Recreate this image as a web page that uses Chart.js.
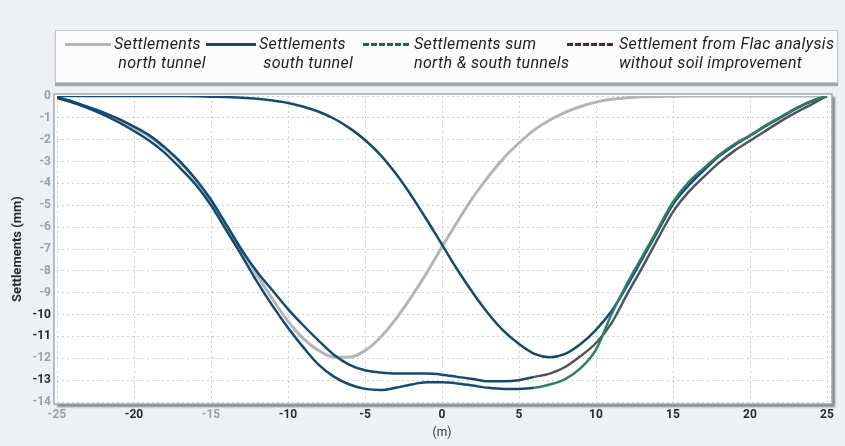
<!DOCTYPE html>
<html>
<head>
<meta charset="utf-8">
<script src="https://cdn.jsdelivr.net/npm/chart.js@4.4.1/dist/chart.umd.min.js"></script>
<style>
  html, body { margin: 0; padding: 0; background: #eef1f4; }
  #wrap { position: relative; width: 845px; height: 446px; overflow: hidden; }
  #chart { position: absolute; left: 0; top: 0; }
  .legend {
    position: absolute; left: 55px; top: 30px; width: 781px; height: 51px;
    background: #fbfbfb; border: 1px solid #c3c7cb; box-shadow: 0 3px 1px #a3a7ab;
  }
  .item {
    position: absolute; top: 3px; color: #1e1e1e; line-height: 22px; white-space: nowrap;
    font: italic 16px Roboto, sans-serif; letter-spacing: 0.35px;
  }
  .swatch { position: absolute; top: 12px; width: 46px; height: 0; border-top: 3px solid; }
</style>
</head>
<body>
<div id="wrap">
  <canvas id="chart" width="845" height="446"></canvas>
  <div class="legend">
    <div class="swatch" style="left:9px;border-color:#b3b6b8"></div>
    <div class="item" style="left:58px">Settlements<br>&nbsp;north tunnel</div>
    <div class="swatch" style="left:150px;width:50px;border-color:#114a73"></div>
    <div class="item" style="left:203px">Settlements<br>&nbsp;south tunnel</div>
    <div class="swatch" style="left:307px;border-top-style:dashed;border-color:#1c6a55"></div>
    <div class="item" style="left:358px">Settlements sum<br>north &amp; south tunnels</div>
    <div class="swatch" style="left:511px;border-top-style:dashed;border-color:#5b2330"></div>
    <div class="item" style="left:563px">Settlement from Flac analysis<br>without soil improvement</div>
  </div>
</div>
<script>
// 가로 위치 (m)
const X_M = [-25, -24, -23, -22, -21, -20, -19, -18, -17, -16, -15, -14, -13, -12, -11, -10,
  -9, -8, -7, -6, -5, -4, -3, -2, -1, 0, 1, 2, 3, 4, 5, 6, 7, 8, 9, 10,
  11, 12, 13, 14, 15, 16, 17, 18, 19, 20, 21, 22, 23, 24, 25];

// 침하량 (mm) — 그림에서 읽은 값
const NORTH = [-0.10, -0.28, -0.50, -0.78, -1.10, -1.45, -1.85, -2.40, -3.05, -3.85, -4.80, -5.90, -7.05, -8.20, -9.30, -10.30,
  -11.10, -11.65, -11.95, -11.95, -11.65, -11.05, -10.20, -9.20, -8.10, -6.90, -5.75, -4.65, -3.70, -2.85, -2.15, -1.55, -1.10, -0.75, -0.48, -0.28,
  -0.15, -0.08, -0.04, -0.02, -0.01, 0, 0, 0, 0, 0, 0, 0, 0, 0, 0];

const SOUTH = [0, 0, 0, 0, 0, 0, 0, 0, 0, -0.01, -0.03, -0.05, -0.08, -0.13, -0.21, -0.32,
  -0.49, -0.72, -1.04, -1.47, -2.01, -2.69, -3.55, -4.55, -5.65, -6.80, -7.95, -9.00, -9.95, -10.75, -11.35, -11.80, -11.95, -11.80, -11.35, -10.70,
  -9.85, -8.70, -7.45, -6.20, -4.95, -4.10, -3.40, -2.75, -2.25, -1.82, -1.38, -0.98, -0.58, -0.25, 0];

const SUM_NS = [-0.08, -0.30, -0.55, -0.85, -1.20, -1.60, -2.05, -2.60, -3.30, -4.05, -5.00, -6.15, -7.30, -8.50, -9.60, -10.60,
  -11.50, -12.30, -12.85, -13.20, -13.40, -13.45, -13.35, -13.20, -13.10, -13.10, -13.15, -13.25, -13.35, -13.40, -13.40, -13.35, -13.20, -12.95, -12.45, -11.60,
  -10.00, -8.60, -7.35, -6.10, -4.85, -3.95, -3.30, -2.70, -2.20, -1.80, -1.35, -0.95, -0.55, -0.22, 0];

const FLAC = [-0.05, -0.25, -0.50, -0.75, -1.05, -1.40, -1.80, -2.35, -3.00, -3.80, -4.75, -5.90, -7.05, -8.05, -8.90, -9.75,
  -10.50, -11.20, -11.85, -12.30, -12.55, -12.65, -12.70, -12.70, -12.70, -12.75, -12.85, -12.95, -13.05, -13.05, -13.00, -12.85, -12.70, -12.40, -11.90, -11.30,
  -10.40, -9.10, -7.85, -6.55, -5.30, -4.40, -3.70, -3.05, -2.50, -2.05, -1.60, -1.15, -0.75, -0.38, 0];

const NAVY = '#124a73';
const FAINT_Y = [0, -1, -2, -3, -4, -5, -6, -7, -8, -9, -12, -14]; // 스캔에서 흐릿하게 보이는 눈금
const FAINT_X = [-25, -15];

const pts = (ys) => X_M.map((x, i) => ({ x, y: ys[i] }));
// 왼쪽/바닥은 남색으로 보이고 오른쪽 상승 구간에서만 원래 색이 보임
const splitColor = (right) => (ctx) => (ctx.p0.parsed.x >= 6 ? right : NAVY);

const framePlugin = {
  id: 'frame',
  beforeDraw(chart) {
    const { ctx, chartArea: a } = chart;
    ctx.save();
    ctx.shadowColor = 'rgba(0,0,0,0.45)';
    ctx.shadowOffsetX = 3;
    ctx.shadowOffsetY = 3;
    ctx.shadowBlur = 2;
    ctx.fillStyle = '#ffffff';
    ctx.fillRect(a.left - 3, a.top - 2, a.right - a.left + 8, a.bottom - a.top + 4);
    ctx.restore();
    ctx.save();
    ctx.strokeStyle = '#a3a8ac';
    ctx.lineWidth = 1.5;
    ctx.strokeRect(a.left - 3, a.top - 2, a.right - a.left + 8, a.bottom - a.top + 4);
    ctx.restore();
  },
};

const tickFont = { family: 'Roboto, sans-serif', size: 12, weight: 'bold' };

new Chart(document.getElementById('chart'), {
  type: 'line',
  data: {
    datasets: [
      { label: 'Settlements north tunnel', data: pts(NORTH), borderColor: '#b3b6b8', borderWidth: 3, order: 4 },
      { label: 'Settlements south tunnel', data: pts(SOUTH), borderColor: NAVY, borderWidth: 2.5, order: 3 },
      {
        label: 'Settlements sum north & south tunnels', data: pts(SUM_NS), borderColor: '#2f7e66', borderWidth: 2.5, order: 1,
        segment: { borderColor: splitColor('#2f7e66') },
      },
      {
        label: 'Settlement from Flac analysis without soil improvement', data: pts(FLAC), borderColor: '#55505a', borderWidth: 2.5, order: 2,
        segment: { borderColor: splitColor('#55505a') },
      },
    ],
  },
  options: {
    responsive: false,
    animation: false,
    layout: { padding: { top: 96, right: 18, bottom: 0, left: 0 } },
    elements: { point: { radius: 0 }, line: { cubicInterpolationMode: 'monotone' } },
    plugins: { legend: { display: false }, tooltip: { enabled: false } },
    scales: {
      x: {
        type: 'linear', min: -25, max: 25,
        afterFit: (s) => { s.height = 44; },
        border: { display: false, dash: [2, 3] },
        grid: { color: '#c9cfd4', drawTicks: false },
        ticks: {
          stepSize: 5, padding: 6, font: tickFont,
          color: (c) => (FAINT_X.includes(c.tick.value) ? '#9aa0a6' : '#2b2b2b'),
        },
        title: { display: true, text: '(m)', color: '#333', font: { ...tickFont, weight: 'normal' }, padding: { top: 0, bottom: 6 } },
      },
      y: {
        type: 'linear', min: -14, max: 0,
        afterFit: (s) => { s.width = 57; },
        border: { display: false, dash: [2, 3] },
        grid: { color: '#c9cfd4', drawTicks: false },
        ticks: {
          stepSize: 1, padding: 6, font: tickFont,
          color: (c) => (FAINT_Y.includes(c.tick.value) ? '#9aa0a6' : '#2b2b2b'),
        },
        title: {
          display: true, text: 'Settlements (mm)', color: '#2b2b2b',
          font: { ...tickFont, size: 13 }, padding: { top: 10, bottom: 4 },
        },
      },
    },
  },
  plugins: [framePlugin],
});
</script>
</body>
</html>
